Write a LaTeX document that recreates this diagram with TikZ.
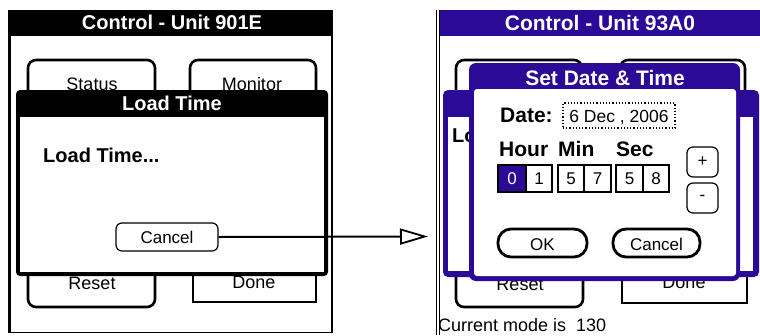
\documentclass[tikz,border=0pt]{standalone}
\usepackage{fontspec}
\setmainfont{Liberation Sans}
\usetikzlibrary{arrows.meta}
\definecolor{palm}{RGB}{42,10,150}
\begin{document}
\begin{tikzpicture}[x=1pt,y=-1pt,
  ttl/.style={text=white,font=\fontsize{20}{20}\selectfont\bfseries,inner sep=0pt,anchor=base},
  bold/.style={font=\fontsize{20}{20}\selectfont\bfseries,inner sep=0pt,anchor=base},
  reg/.style={font=\fontsize{18}{18}\selectfont,inner sep=0pt,anchor=base},
  sml/.style={font=\fontsize{17}{17}\selectfont,inner sep=0pt,anchor=base},
  tabline/.style={line width=2.6pt,rounded corners=8pt},
  thinbox/.style={line width=1.2pt},
  pill/.style={line width=2.8pt,rounded corners=13pt}]
\useasboundingbox (0,0) rectangle (760,335);
\fill[white] (0,0) rectangle (760,335);

% ================= LEFT SCREEN =================
\draw[line width=3pt] (9.5,10) -- (9.5,333);
\draw[line width=1.5pt] (332,10) -- (332,332.5) -- (9.5,332.5);
\fill[black] (11,10) rectangle (333,36);
\node[ttl] (ltitle) at (172,29) {Control - Unit 901E};
% tabs
\draw[tabline] (28,92) -- (28,60) -- (155,60) -- (155,92);
\draw[tabline] (190,92) -- (190,60) -- (316,60) -- (316,92);
\node[reg] (lstatus) at (92,90) {Status};
\node[reg] (lmonitor) at (252,90) {Monitor};
\draw[tabline] (28,270) -- (28,307) -- (155,307) -- (155,270);
\draw[thinbox] (193,270) -- (193,302) -- (316,302) -- (316,270);
\node[reg] (lreset) at (92,289) {Reset};
\node[reg] (ldone) at (254,288) {Done};
% Load Time dialog
\fill[black,rounded corners=4pt] (16,90) rectangle (328,276);
\fill[white] (20,117) rectangle (324,272);
\node[ttl] (lttl) at (172,110) {Load Time};
\node[bold,anchor=base west] (lmsg) at (43,162) {Load Time...};
\node[draw,thinbox,rounded corners=6pt,minimum width=102pt,minimum height=28pt,inner sep=0pt] (lcancel) at (167,237) {};
\node[sml] at (167,243) {Cancel};

% ================= RIGHT SCREEN =================
\draw[line width=0.8pt] (436,10) -- (436,335);
\draw[line width=0.8pt] (439,10) -- (439,335);
\fill[palm] (440,10) rectangle (760,36);
\node[ttl,font=\fontsize{21}{21}\selectfont\bfseries] (rtitle) at (600,30) {Control - Unit 93A0};
% background tabs
\draw[tabline] (456,92) -- (456,60) -- (582,60) -- (582,92);
\draw[tabline] (620,92) -- (620,60) -- (745,60) -- (745,92);
\draw[tabline] (456,270) -- (456,307) -- (583,307) -- (583,270);
\draw[thinbox] (622,270) -- (622,303) -- (747,303) -- (747,270);
\node[reg] (rreset) at (520,290) {Reset};
\node[reg] (rdone) at (684,288) {Done};
% background Load Time dialog (its message is hidden but for its first letters)
\fill[palm,rounded corners=5pt] (443,90) rectangle (759,277);
\fill[white] (448,117) rectangle (753,271);
\begin{scope}
\clip (448,117) rectangle (470,271);
\node[bold,anchor=base west] (rmsg) at (452,142) {Lo};
\end{scope}
% Set Date & Time dialog
\fill[palm,rounded corners=7pt] (469,63) rectangle (740,281);
\fill[white,rounded corners=3pt] (474,89) rectangle (736,276);
\node[ttl,font=\fontsize{21}{21}\selectfont\bfseries] (sdttl) at (605,85) {Set Date \& Time};
\node[bold,font=\fontsize{21}{21}\selectfont\bfseries,anchor=base west] (datelbl) at (500,122) {Date:};
\node[draw,dotted,line width=1.2pt,minimum width=112pt,minimum height=25pt,inner sep=0pt] (datebox) at (619,115.5) {};
\node[sml,font=\fontsize{17.5}{17.5}\selectfont] (dateval) at (619,122) {6 Dec , 2006};
\node[bold,font=\fontsize{21}{21}\selectfont\bfseries,anchor=base west] (hour) at (499,156) {Hour};
\node[bold,font=\fontsize{21}{21}\selectfont\bfseries,anchor=base west] (min) at (558,156) {Min};
\node[bold,font=\fontsize{21}{21}\selectfont\bfseries,anchor=base west] (sec) at (616,156) {Sec};
% digit boxes
\fill[palm] (498,165) rectangle (526,192);
\draw[thinbox] (498,165) rectangle (552,192);
\draw[thinbox] (526,165) -- (526,192);
\draw[thinbox] (558,165) rectangle (611,192);
\draw[thinbox] (584,165) -- (584,192);
\draw[thinbox] (616,165) rectangle (669,192);
\draw[thinbox] (643,165) -- (643,192);
\node[sml,text=white] (d0) at (512,184) {0};
\node[sml] (d1) at (539,184) {1};
\node[sml] (d2) at (571,184) {5};
\node[sml] (d3) at (597.5,184) {7};
\node[sml] (d4) at (629.5,184) {5};
\node[sml] (d5) at (656,184) {8};
% +/- buttons
\node[draw,thinbox,rounded corners=6pt,minimum width=31pt,minimum height=30pt,inner sep=0pt,font=\fontsize{17}{17}\selectfont] (plus) at (702.5,162) {+};
\node[draw,thinbox,rounded corners=6pt,minimum width=31pt,minimum height=30pt,inner sep=0pt,font=\fontsize{17}{17}\selectfont] (minus) at (702.5,198) {-};
% OK / Cancel
\node[draw,pill,minimum width=89pt,minimum height=28pt,inner sep=0pt] (okbtn) at (542.5,243) {};
\node[sml] at (542.5,250) {OK};
\node[draw,pill,minimum width=87pt,minimum height=28pt,inner sep=0pt] (rcancel) at (656.5,243) {};
\node[sml] at (656.5,250) {Cancel};
% status line
\node[reg,anchor=base west] (mode) at (438,331) {Current mode is\ \ 130};

% ================= ARROW =================
\coordinate (tip) at (428,236.5);
\draw[line width=2pt,-{Triangle[open,length=28pt,width=16pt,line width=1.8pt]}] (lcancel.east) -- (tip);
\end{tikzpicture}
\end{document}
